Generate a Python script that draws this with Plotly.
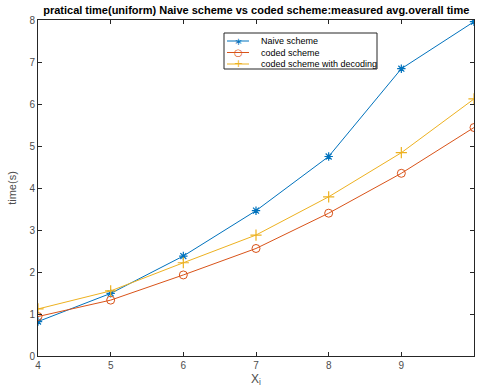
import plotly.graph_objects as go

x_vals = [4, 5, 6, 7, 8, 9, 10]
naive = [0.82, 1.49, 2.38, 3.46, 4.75, 6.84, 7.96]
coded = [0.94, 1.33, 1.93, 2.56, 3.40, 4.35, 5.44]
coded_dec = [1.12, 1.55, 2.22, 2.88, 3.79, 4.84, 6.12]

names = ["Naive scheme", "coded scheme", "coded scheme with decoding"]
colors = ["#0072BD", "#D95319", "#EDB120"]
legend_glyphs = ["\u2217", "\u25cb", "+"]

FONT = "Liberation Sans, Arial"

fig = go.Figure()
fig.add_trace(go.Scatter(x=x_vals, y=naive, name=names[0], mode="lines+markers",
                         line=dict(color=colors[0], width=1),
                         marker=dict(symbol="asterisk-open", size=7, line=dict(color=colors[0], width=1.2))))
fig.add_trace(go.Scatter(x=x_vals, y=coded, name=names[1], mode="lines+markers",
                         line=dict(color=colors[1], width=1),
                         marker=dict(symbol="circle-open", size=8, color=colors[1], line=dict(color=colors[1], width=1))))
fig.add_trace(go.Scatter(x=x_vals, y=coded_dec, name=names[2], mode="lines+markers",
                         line=dict(color=colors[2], width=1),
                         marker=dict(symbol="cross-thin-open", size=8, line=dict(color=colors[2], width=1.2))))

# plot area in pixels (for placing the compact MATLAB-style legend)
PL, PR, PT, PB = 38, 474, 20, 356
def px(x):
    return (x - PL) / (PR - PL)
def py(y):
    return (PB - y) / (PB - PT)

shapes = [dict(type="rect", xref="paper", yref="paper",
               x0=px(224), x1=px(377), y0=py(69), y1=py(33),
               line=dict(color="#262626", width=1), fillcolor="white", layer="above")]
annotations = []
row_y = [41, 52.5, 64]
for name, col, glyph, ry in zip(names, colors, legend_glyphs, row_y):
    shapes.append(dict(type="line", xref="paper", yref="paper",
                       x0=px(227), x1=px(249), y0=py(ry), y1=py(ry),
                       line=dict(color=col, width=1), layer="above"))
    annotations.append(dict(xref="paper", yref="paper", x=px(238), y=py(ry),
                            text=glyph, showarrow=False, xanchor="center", yanchor="middle",
                            font=dict(family="DejaVu Sans", size=10 if glyph != "+" else 11, color=col)))
    annotations.append(dict(xref="paper", yref="paper", x=px(259), y=py(ry),
                            text=name, showarrow=False, xanchor="left", yanchor="middle",
                            font=dict(family=FONT, size=9, color="black")))

axis_common = dict(showgrid=False, zeroline=False, showline=True, linecolor="#262626", linewidth=1,
                   mirror="ticks", ticks="inside", ticklen=4, tickcolor="#262626",
                   tickfont=dict(family=FONT, size=10, color="#4d4d4d"))

fig.update_layout(
    width=479, height=392,
    margin=dict(l=PL, r=479 - PR, t=PT, b=392 - PB),
    paper_bgcolor="white", plot_bgcolor="white",
    title=dict(text="<b>pratical time(uniform) Naive scheme vs coded scheme:measured avg.overall time</b>",
               x=0.535, xanchor="center", y=0.975, yanchor="middle",
               font=dict(family=FONT, size=11, color="black")),
    xaxis=dict(range=[4, 10], tickvals=[4, 5, 6, 7, 8, 9, 10],
               title=dict(text="X<sub>i</sub>", standoff=4,
                          font=dict(family=FONT, size=12, color="#4d4d4d")),
               **axis_common),
    yaxis=dict(range=[0, 8], tickvals=[0, 1, 2, 3, 4, 5, 6, 7, 8],
               title=dict(text="time(s)", standoff=10,
                          font=dict(family=FONT, size=11, color="#4d4d4d")),
               **axis_common),
    showlegend=False,
    shapes=shapes,
    annotations=annotations,
)

fig.write_html("out.html", config={"displayModeBar": False},
               post_script="document.body.style.margin='0';")
